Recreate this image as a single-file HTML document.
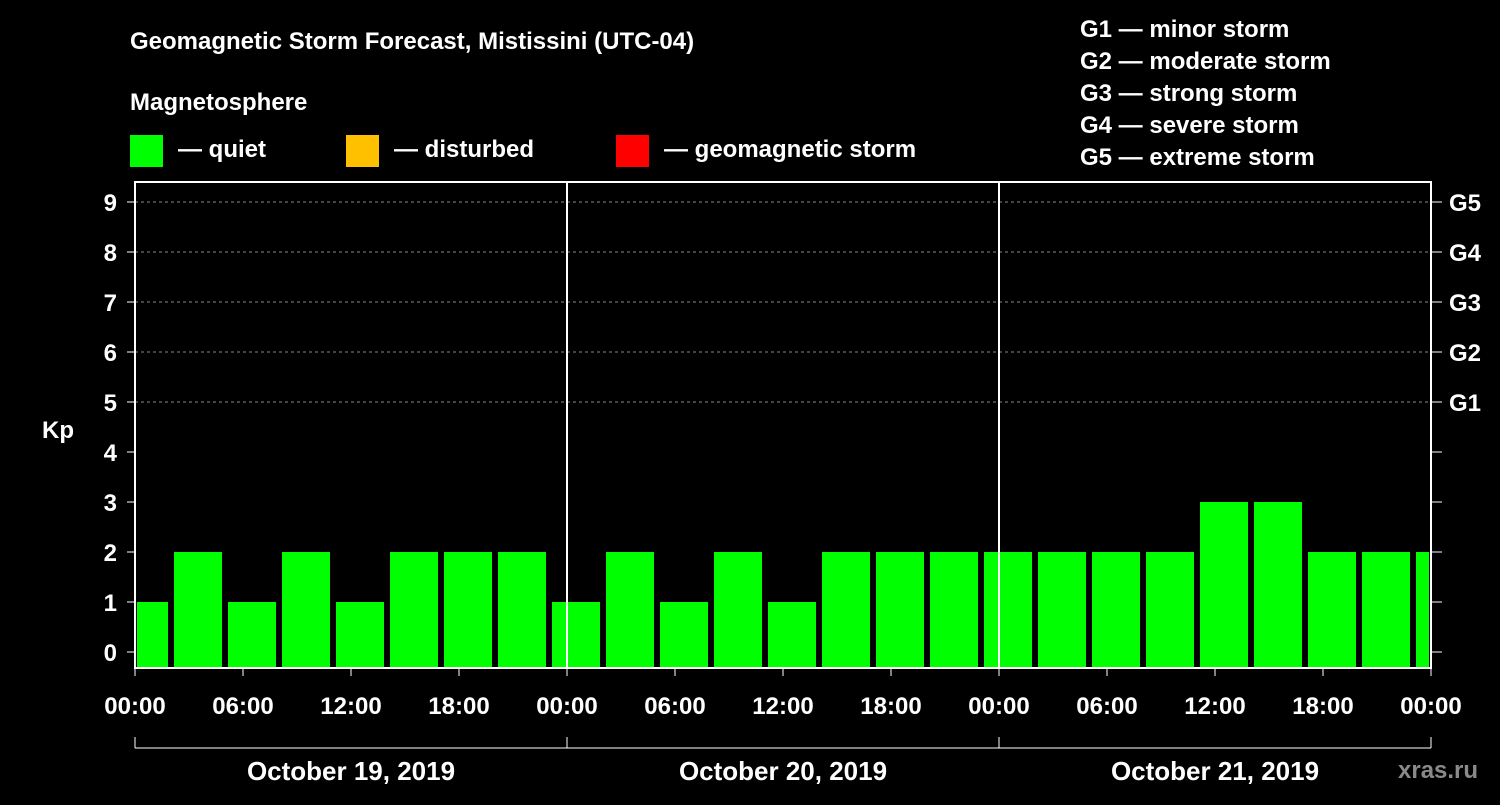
<!DOCTYPE html>
<html><head><meta charset="utf-8"><style>
body{margin:0;background:#000;width:1500px;height:800px;overflow:hidden}
svg text{font-family:"Liberation Sans",sans-serif;font-weight:bold;fill:#fff}
</style></head><body>
<svg id="c" width="1500" height="800" xmlns="http://www.w3.org/2000/svg">
<text x="130" y="49" font-size="24">Geomagnetic Storm Forecast, Mistissini (UTC-04)</text>
<text x="130" y="110" font-size="24">Magnetosphere</text>
<g><rect x="130" y="135" width="33" height="32" fill="#00ff00"/><text x="178" y="157" font-size="24">— quiet</text></g>
<g><rect x="346" y="135" width="33" height="32" fill="#ffc000"/><text x="394" y="157" font-size="24">— disturbed</text></g>
<g><rect x="616" y="135" width="33" height="32" fill="#ff0000"/><text x="664" y="157" font-size="24">— geomagnetic storm</text></g>
<g font-size="24">
<text x="1080" y="37">G1 — minor storm</text><text x="1080" y="69">G2 — moderate storm</text><text x="1080" y="101">G3 — strong storm</text><text x="1080" y="133">G4 — severe storm</text><text x="1080" y="165">G5 — extreme storm</text></g>
<text x="42" y="438" font-size="24">Kp</text>
<g id="plot"></g>
<text x="1398" y="778" font-size="24" fill="#888" style="fill:#8a8a8a">xras.ru</text>
</svg>
<script>
const kpValues=[1,2,1,2,1,2,2,2,1,2,1,2,1,2,2,2,2,2,2,2,3,3,2,2,2];
const yTicks=[0,1,2,3,4,5,6,7,8,9];
const gLabels=["G1","G2","G3","G4","G5"];
const xLabels=["00:00","06:00","12:00","18:00","00:00","06:00","12:00","18:00","00:00","06:00","12:00","18:00","00:00"];
const dateLabels=["October 19, 2019","October 20, 2019","October 21, 2019"];
const NS="http://www.w3.org/2000/svg";
const L=135,R=1431,T=182,B=668;
const hourPx=(R-L)/72;
const y=v=>652-v*50;
const x=h=>L+h*hourPx;
const p=document.getElementById('plot');
function mk(t,a,parent){const e=document.createElementNS(NS,t);for(const k in a)e.setAttribute(k,a[k]);(parent||p).appendChild(e);return e;}
// grid
yTicks.forEach(v=>{
 if(v>=5){const g=mk('line',{x1:L,x2:R,y1:y(v),y2:y(v),stroke:'#888','stroke-dasharray':'3,3','stroke-width':1});
 
 }
 mk('line',{x1:127,x2:L,y1:y(v),y2:y(v),stroke:'#fff','stroke-width':1});
 mk('line',{x1:R,x2:1442,y1:y(v),y2:y(v),stroke:'#fff','stroke-width':1});
 const t=mk('text',{x:117,y:y(v)+9,'font-size':24,'text-anchor':'end'});t.textContent=v;
 
 
});
gLabels.forEach((g,i)=>{const t=mk('text',{x:1449,y:y(5+i)+9,'font-size':24});t.textContent=g;
 
 });
// bars
const clip=mk('clipPath',{id:'cp'});mk('rect',{x:L+2,y:T,width:R-L-4,height:B-T},clip);
kpValues.forEach((v,i)=>{
 const cx=x(i*3+0.5);
 const col=v>=5?'#ff0000':(v>=4?'#ffc000':'#00ff00');
 const b=mk('rect',{x:cx-24,y:y(v),width:48,height:B-y(v),fill:col,'clip-path':'url(#cp)'});
 
 
});
// day separators
[1,2].forEach(d=>mk('line',{x1:x(d*24),x2:x(d*24),y1:T,y2:B,stroke:'#fff','stroke-width':2}));
mk('rect',{x:L,y:T,width:R-L,height:B-T,fill:'none',stroke:'#fff','stroke-width':2});
xLabels.forEach((s,i)=>{
 mk('line',{x1:x(i*6),x2:x(i*6),y1:B,y2:B+8,stroke:'#fff','stroke-width':1});
 const t=mk('text',{x:x(i*6),y:714,'font-size':24,'text-anchor':'middle'});t.textContent=s;
 
 
});
mk('line',{x1:L,x2:R,y1:748,y2:748,stroke:'#fff','stroke-width':1});
[0,1,2,3].forEach(d=>mk('line',{x1:x(d*24),x2:x(d*24),y1:737,y2:748,stroke:'#fff','stroke-width':1}));
dateLabels.forEach((s,i)=>{const t=mk('text',{x:x(i*24+12),y:780,'font-size':26,'text-anchor':'middle'});t.textContent=s;
 
 });
</script>
</body></html>
